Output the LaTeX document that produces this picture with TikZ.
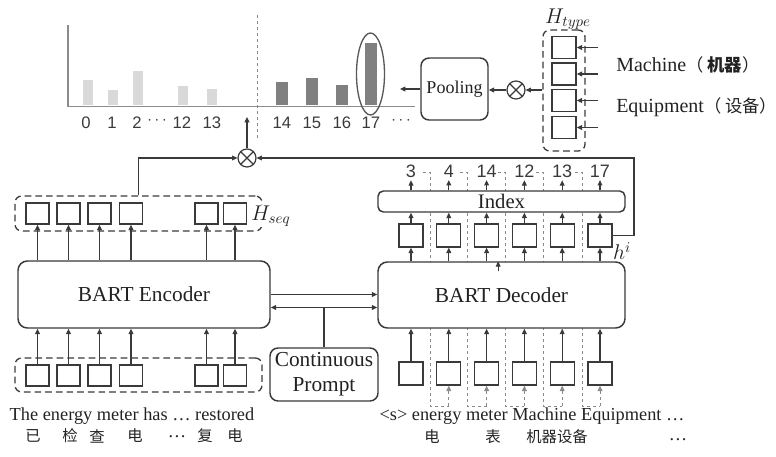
\RequirePackage{fix-cm}
\documentclass[tikz,border=0pt]{standalone}
\usepackage{fontspec}
\setmainfont{Liberation Serif}
\newfontfamily\cjk{Noto Sans CJK SC}
\newfontfamily\numf{Liberation Sans}
\usetikzlibrary{arrows.meta,shapes.geometric,backgrounds,calc}
\definecolor{ln}{HTML}{3A3A3A}
\definecolor{txt}{HTML}{222222}
\definecolor{lbar}{HTML}{D9D9D9}
\definecolor{dbar}{HTML}{808080}
\definecolor{axisc}{HTML}{8C8C8C}
\definecolor{fb}{HTML}{8A8A8A}
\begin{document}
\begin{tikzpicture}[x=0.75pt,y=-0.75pt,
  arr/.style={draw=ln, line width=0.8pt, -{Triangle[length=4pt,width=3.6pt]}},
  dblarr/.style={draw=ln, line width=0.8pt, {Triangle[length=4pt,width=3.6pt]}-{Triangle[length=4pt,width=3.6pt]}},
  sq/.style={draw=ln, line width=1pt, fill=white, inner sep=0pt, minimum width=17.25pt, minimum height=15.75pt},
  dsq/.style={sq, minimum width=18pt, minimum height=17.25pt},
  big/.style={draw=ln, line width=1.1pt, rounded corners=7pt, fill=white, inner sep=0pt, text=txt, font=\fontsize{16}{18.5}\selectfont},
  dbox/.style={draw=ln, line width=1pt, dash pattern=on 5pt off 3pt, rounded corners=5pt, inner sep=0pt},
  onum/.style={font=\numf\fontsize{12.5}{14}\selectfont, text=ln, inner sep=1pt},
  inum/.style={font=\numf\fontsize{13.5}{15}\selectfont, text=ln, inner sep=2pt},
  lab/.style={text=txt, inner sep=0.5pt, font=\fontsize{16}{18}\selectfont},
  btxt/.style={text=txt, inner sep=0pt, font=\fontsize{13.75}{15}\selectfont},
  zh/.style={text=txt, inner sep=0pt, font=\cjk\fontsize{11.5}{13}\selectfont},
  fbdash/.style={draw=fb, line width=0.7pt, dash pattern=on 2.5pt off 2pt},
  omark/.style={circle, draw=ln, line width=0.9pt, minimum size=13.5pt, inner sep=0pt, fill=white}
]
\useasboundingbox (0,0) rectangle (776,457);

% ---------- chart ----------
\draw[axisc, line width=1.1pt] (68,25) -- (68,106.5) -- (415,106.5);
\foreach \x/\t in {83/80,108/90,133/71,178/86,207/89}
  \fill[lbar] (\x,\t) rectangle ({\x+10},105);
\foreach \x/\t in {276/82,306/78,336/85,365/43}
  \fill[dbar] (\x,\t) rectangle ({\x+11.5},105);
\node[ellipse, draw=ln!85, line width=1pt, minimum width=21pt, minimum height=61.5pt, inner sep=0pt] (sel) at (370.5,74) {};
\draw[fbdash] (257,15) -- (257,138);
\foreach \n/\x/\t in {c0/86/0, c1/112/1, c2/137/2, c12/182/12, c13/212/13, c14/282/14, c15/312/15, c16/342/16, c17/371/17}
  \node[onum] (\n) at (\x,123) {\t};
\node[onum] (cd1) at (157,121) {$\cdots$};
\node[onum] (cd2) at (401,121) {$\cdots$};

% ---------- top right ----------
\node[big, rounded corners=6pt, minimum width=50.25pt, minimum height=46.5pt, font=\fontsize{13.5}{15}\selectfont] (pool) at (454.5,89) {Pooling};
\node[omark] (pmul) at (516,90) {};
\draw[ln, line width=0.9pt] (pmul.45) -- (pmul.225) (pmul.135) -- (pmul.315);
\node[dbox, minimum width=31.5pt, minimum height=90.75pt] (htbox) at (564,90.5) {};
\node[lab] (htlab) at (568,19) {$H_{type}$};
\foreach \i/\y in {1/47.5,2/74,3/100.5,4/127.5}{
  \node[sq, minimum width=18pt, minimum height=16.5pt] (ht\i) at (564,\y) {};
  \coordinate (hin\i) at (598,\y);
  \draw[arr] (hin\i) -- (ht\i.east);
}
\draw[arr] (htbox.west |- pmul.east) -- (pmul.east);
\draw[arr] (pmul.west) -- (pmul.west -| pool.east);
\coordinate (chartout) at (400,89);
\draw[arr] (pool.west) -- (chartout);
\node[anchor=west, text=txt, inner sep=0pt, font=\fontsize{15}{17}\selectfont] (mach) at (616,65) {Machine{\cjk\fontsize{13}{15}\selectfont （ \textbf{机器}）}};
\node[anchor=west, text=txt, inner sep=0pt, font=\fontsize{15}{17}\selectfont] (equip) at (616,107) {Equipment{\cjk\fontsize{13}{15}\selectfont （ 设备）}};

% ---------- encoder side ----------
\node[big, minimum width=189pt, minimum height=50.25pt] (enc) at (144,294.5) {BART Encoder};
\node[big, minimum width=185.25pt, minimum height=49.5pt] (dec) at (501.5,295) {BART Decoder};
\node[big, rounded corners=6pt, minimum width=81pt, minimum height=39.75pt, align=center] (cp) at (324,374.5) {Continuous\\Prompt};

\node[dbox, minimum width=185.25pt, minimum height=26.25pt] (hsbox) at (138.5,213.5) {};
\node[dbox, minimum width=185.25pt, minimum height=25.5pt] (ebbox) at (138.5,375) {};
\foreach \i/\x in {1/37.5,2/68.5,3/99.5,4/131,5/206.5,6/235}{
  \node[sq] (et\i) at (\x,213.5) {};
  \node[sq] (eb\i) at (\x,375.5) {};
  \draw[arr] (enc.north -| et\i) -- (et\i.south);
  \draw[arr] (eb\i.north) -- (enc.south -| eb\i);
}
\node[lab, fill=white] (hslab) at (271,216) {$H_{seq}$};

\draw[arr] (enc.east) -- (enc.east -| dec.west);
\coordinate (lk) at ([yshift=-9.75pt]enc.east);
\draw[dblarr] (lk) -- (lk -| dec.west);
\draw[draw=ln, line width=0.8pt] (cp.north) -- (cp.north |- lk);

% ---------- decoder side ----------
\node[big, rounded corners=4pt, minimum width=185.25pt, minimum height=15.75pt, font=\fontsize{15.5}{17}\selectfont] (idx) at (501.5,201.5) {Index};
\foreach \i/\x/\t in {1/411/3,2/448.8/4,3/486.6/14,4/524.4/12,5/562.2/13,6/600/17}{
  \node[dsq] (dt\i) at (\x,235.5) {};
  \node[dsq] (db\i) at (\x,373.5) {};
  \node[inum] (n\i) at (\x,171) {\t};
  \draw[arr] (dec.north -| dt\i) -- (dt\i.south);
  \draw[arr] (dt\i.north) -- (idx.south -| dt\i);
  \draw[arr] (idx.north -| n\i) -- (n\i.south);
  \draw[arr] (db\i.north) -- (dec.south -| db\i);
}
\draw[arr] ([xshift=-2.5pt,yshift=-7.5pt]dec.north) -- ([xshift=-2.5pt]dec.north);
\node[lab] (hilab) at (622,251) {$h^i$};

\begin{scope}[on background layer]
\foreach \xd/\j in {430/2,467/3,505/4,543/5,582/6}{
  \draw[fbdash] ({\xd-7},172) -- (\xd,172) -- (\xd,406) -- (db\j.south |- 0,406);
  \draw[fbdash, -{Triangle[length=4pt,width=3.6pt]}, fb] (db\j.south |- 0,406) -- (db\j.south);
}
\end{scope}

% ---------- product ----------
\node[omark] (omul) at (247,158) {};
\draw[ln, line width=0.9pt] (omul.45) -- (omul.225) (omul.135) -- (omul.315);
\draw[arr] (hsbox.north) |- (omul.west);
\coordinate (rt) at (634,158);
\draw[arr] (dt6.east) -| (rt) -- (omul.east);
\coordinate (chartin) at (247,117);
\draw[arr] (omul.north) -- (chartin);

% ---------- bottom texts ----------
\node[btxt] (srctxt) at (132,416) {The energy meter has … restored};
\foreach \n/\x/\c in {z1/33/已, z2/70/检, z3/97/查, z4/135/电, z6/205/复, z7/235/电}
  \node[zh] (\n) at (\x,436) {\c};
\node[btxt] (zdots) at (177,437) {…};
\node[btxt] (tgttxt) at (532,416) {<s> energy meter Machine Equipment …};
\node[zh] (w1) at (432,437) {电};
\node[zh] (w2) at (493,437) {表};
\node[zh] (w3) at (557,437) {机器设备};
\node[btxt] (w4) at (678,440) {…};
\end{tikzpicture}
\end{document}
